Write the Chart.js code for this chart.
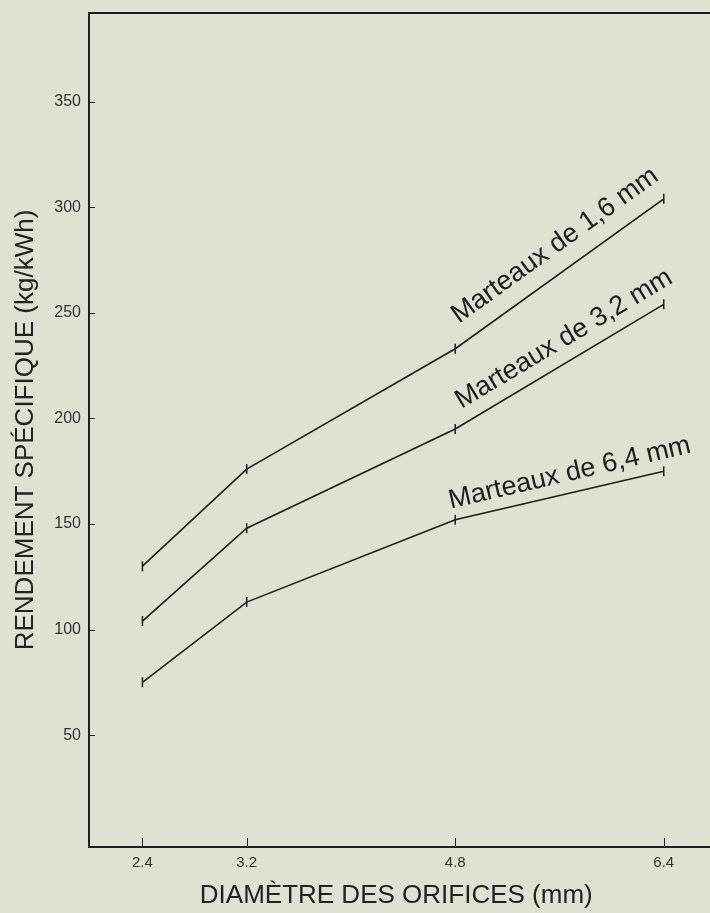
<!DOCTYPE html>
<html>
<head>
<meta charset="utf-8">
<script src="https://cdn.jsdelivr.net/npm/chart.js@4.4.1/dist/chart.umd.min.js"></script>
<style>
html, body { margin: 0; padding: 0; background: #e2e0d3; }
#wrap { width: 710px; height: 913px; }
</style>
</head>
<body>
<div id="wrap"><canvas id="chart"></canvas></div>
<script>
// diamètre des orifices (mm)
var diametres = [2.4, 3.2, 4.8, 6.4];
// rendement spécifique (kg/kWh)
var marteaux16 = [130, 176, 233, 304];
var marteaux32 = [104, 148, 195, 254];
var marteaux64 = [75, 113, 152, 175];
var seriesLabels = ['Marteaux de 1,6 mm', 'Marteaux de 3,2 mm', 'Marteaux de 6,4 mm'];
var yTicks = [50, 100, 150, 200, 250, 300, 350];
var xTicks = [2.4, 3.2, 4.8, 6.4];

var ink = '#1e1e1c';

function pts(values) {
    return diametres.map(function (d, i) { return { x: d, y: values[i] }; });
}

function serie(label, values) {
    return {
        label: label,
        data: pts(values),
        borderColor: ink,
        borderWidth: 1.6,
        pointStyle: 'line',
        rotation: 90,
        pointRadius: 5,
        pointBorderWidth: 1.5,
        pointBorderColor: ink,
        tension: 0
    };
}

// cadre du haut et petites graduations vers l'intérieur
var cadre = {
    id: 'cadre',
    afterDraw: function (chart) {
        var c = chart.ctx, a = chart.chartArea;
        var sx = chart.scales.x, sy = chart.scales.y;
        c.save();
        c.strokeStyle = ink;
        c.lineWidth = 2;
        c.beginPath();
        c.moveTo(a.left - 1, a.top);
        c.lineTo(chart.width, a.top);
        c.moveTo(a.right - 1, a.bottom);
        c.lineTo(chart.width, a.bottom);
        c.stroke();
        c.lineWidth = 1;
        yTicks.forEach(function (v) {
            var y = Math.round(sy.getPixelForValue(v)) + 0.5;
            c.beginPath();
            c.moveTo(a.left, y);
            c.lineTo(a.left + 6, y);
            c.stroke();
        });
        xTicks.forEach(function (v) {
            var x = Math.round(sx.getPixelForValue(v)) + 0.5;
            c.beginPath();
            c.moveTo(x, a.bottom);
            c.lineTo(x, a.bottom - 9);
            c.stroke();
        });
        c.restore();
    }
};

// étiquettes le long du dernier segment de chaque courbe
var etiquettes = {
    id: 'etiquettes',
    afterDatasetsDraw: function (chart, args, opts) {
        var c = chart.ctx;
        c.save();
        c.fillStyle = ink;
        c.font = opts.font;
        c.textAlign = 'center';
        c.textBaseline = 'alphabetic';
        chart.data.datasets.forEach(function (ds, i) {
            var m = chart.getDatasetMeta(i).data;
            var p0 = m[2], p1 = m[3];
            var ang = Math.atan2(p1.y - p0.y, p1.x - p0.x);
            var mx = (p0.x + p1.x) / 2, my = (p0.y + p1.y) / 2;
            var off = opts.offsets[i];
            c.save();
            c.translate(mx, my);
            c.rotate(ang);
            c.fillText(ds.label, off[0], -off[1]);
            c.restore();
        });
        c.restore();
    }
};

function sansPadding(s) {
    s.paddingLeft = 0;
    s.paddingRight = 0;
    s.paddingTop = 0;
    s.paddingBottom = 0;
}

new Chart(document.getElementById('chart'), {
    type: 'line',
    data: {
        datasets: [
            serie(seriesLabels[0], marteaux16),
            serie(seriesLabels[1], marteaux32),
            serie(seriesLabels[2], marteaux64)
        ]
    },
    options: {
        responsive: true,
        maintainAspectRatio: false,
        animation: false,
        layout: { padding: { top: 13, right: 0, left: 0, bottom: 0 } },
        plugins: {
            legend: { display: false },
            tooltip: { enabled: false },
            etiquettes: {
                font: '27px "Liberation Sans", Arial, sans-serif',
                offsets: [[13, 18], [18, 14], [15, 12]]
            }
        },
        scales: {
            x: {
                type: 'linear',
                min: 1.99,
                max: 6.705,
                afterBuildTicks: function (s) { s.ticks = xTicks.map(function (v) { return { value: v }; }); },
                afterFit: function (s) { s.height = 66; sansPadding(s); },
                grid: { display: false, drawTicks: false },
                border: { display: true, color: ink, width: 2 },
                ticks: {
                    color: '#333',
                    padding: 7,
                    maxRotation: 0,
                    font: { family: '"Liberation Sans", Arial, sans-serif', size: 15 },
                    callback: function (v) { return v.toFixed(1); }
                },
                title: {
                    display: true,
                    text: 'DIAMÈTRE DES ORIFICES (mm)',
                    color: '#222',
                    font: { family: '"Liberation Sans", Arial, sans-serif', size: 26 },
                    padding: { top: 0, bottom: 2 }
                }
            },
            y: {
                min: -3,
                max: 392,
                afterBuildTicks: function (s) { s.ticks = yTicks.map(function (v) { return { value: v }; }); },
                afterFit: function (s) { s.width = 89; sansPadding(s); },
                grid: { display: false, drawTicks: false },
                border: { display: true, color: ink, width: 2 },
                ticks: {
                    color: '#333',
                    padding: 8,
                    font: { family: '"Liberation Sans", Arial, sans-serif', size: 16 }
                },
                title: {
                    display: true,
                    text: 'RENDEMENT SPÉCIFIQUE (kg/kWh)',
                    color: '#222',
                    font: { family: '"Liberation Sans", Arial, sans-serif', size: 26 },
                    padding: { top: 10, bottom: 0 }
                }
            }
        }
    },
    plugins: [cadre, etiquettes]
});
</script>
</body>
</html>
